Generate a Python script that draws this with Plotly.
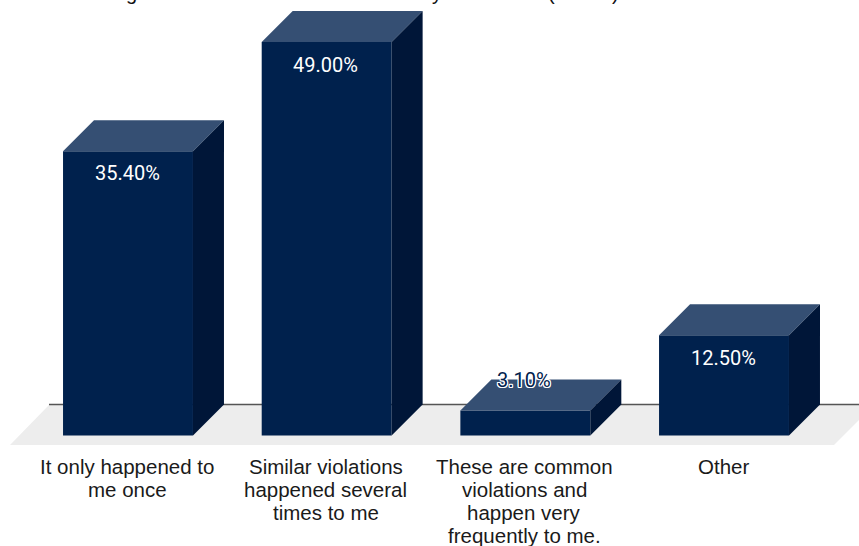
import plotly.graph_objects as go

category_lines = [["It only happened to", "me once"],
                  ["Similar violations", "happened several", "times to me"],
                  ["These are common", "violations and", "happen very", "frequently to me."],
                  ["Other"]]
values = [35.4, 49.0, 3.1, 12.5]
labels = ["35.40%", "49.00%", "3.10%", "12.50%"]
label_shift = [-22, -23, 31, -23]
title_fragments = ["g", "y", "(", ")"]
title_fragment_px = [131, 437, 551, 615]

W, H = 859, 546
FRONT, TOP, SIDE = "#00214d", "#354f73", "#001638"
BAR_W = 0.654
DX = 31 / 198.67
DY = 31 / 8.03
HALF = BAR_W / 2
BOTTOM_MARGIN = 95
PLOT_H = H - BOTTOM_MARGIN
LINE_PITCH = 23

fig = go.Figure()
xs = list(range(len(values)))
fig.add_trace(go.Bar(x=xs, y=values, width=BAR_W, marker=dict(color=FRONT, line=dict(width=0)),
                     showlegend=False, hoverinfo="skip"))
for i, v in zip(xs, values):
    l, r = i - HALF, i + HALF
    fig.add_trace(go.Scatter(x=[l, r, r + DX, l + DX, l], y=[v, v, v + DY, v + DY, v],
                             mode="lines", fill="toself", fillcolor=TOP, line=dict(width=0),
                             showlegend=False, hoverinfo="skip"))
    fig.add_trace(go.Scatter(x=[r, r + DX, r + DX, r, r], y=[0, DY, v + DY, v, 0],
                             mode="lines", fill="toself", fillcolor=SIDE, line=dict(width=0),
                             showlegend=False, hoverinfo="skip"))

OUTLINE = "1px 0 0 #fff,-1px 0 0 #fff,0 1px 0 #fff,0 -1px 0 #fff,1px 1px 0 #fff,-1px -1px 0 #fff,1px -1px 0 #fff,-1px 1px 0 #fff"
for i, v, t, s in zip(xs, values, labels, label_shift):
    small = v < 5
    fig.add_annotation(x=i, y=v, text=t, showarrow=False, yshift=s, yanchor="middle", xshift=-1,
                       font=dict(family="Roboto", size=20, color=FRONT if small else "#ffffff",
                                 shadow=OUTLINE if small else "none"))

for i, lines in zip(xs, category_lines):
    for n, line in enumerate(lines):
        fig.add_annotation(x=i, xref="x", y=0, yref="paper", text=line, showarrow=False, xshift=-1,
                           yanchor="middle", yshift=-15 - n * LINE_PITCH,
                           font=dict(family="Liberation Sans", size=20.5, color="#1a1a1a"))

px = lambda p: p / W
py = lambda p: 1 - p / PLOT_H
for t, p in zip(title_fragments, title_fragment_px):
    fig.add_annotation(xref="paper", yref="paper", x=px(p), xanchor="center", y=1, yanchor="bottom", yshift=-6,
                       showarrow=False, text=t, font=dict(family="Liberation Sans", size=20, color="#111111"))

fig.add_shape(type="path", xref="paper", yref="paper", layer="below", line=dict(width=0), fillcolor="#ededed",
              path=f"M {px(49)} {py(405)} L {px(859)} {py(405)} L {px(859)} {py(420)} L {px(834)} {py(445)} L {px(10)} {py(445)} Z")
fig.add_shape(type="line", xref="paper", yref="paper", layer="below", line=dict(color="#555555", width=1.5),
              x0=px(49), x1=px(859), y0=py(404.5), y1=py(404.5))

fig.update_layout(
    width=W, height=H, margin=dict(l=0, r=0, t=0, b=BOTTOM_MARGIN),
    paper_bgcolor="#ffffff", plot_bgcolor="rgba(0,0,0,0)", showlegend=False,
    xaxis=dict(range=[-128 / 198.67, (W - 128) / 198.67], tickmode="array", tickvals=xs, showticklabels=False,
               showgrid=False, zeroline=False, showline=False, ticks="", automargin=False),
    yaxis=dict(range=[(435.5 - PLOT_H) / 8.03, 435.5 / 8.03], visible=False),
)
fig.write_html("out.html", config={"displayModeBar": False},
               post_script="document.body.style.margin='0';document.documentElement.style.overflow='hidden';")
